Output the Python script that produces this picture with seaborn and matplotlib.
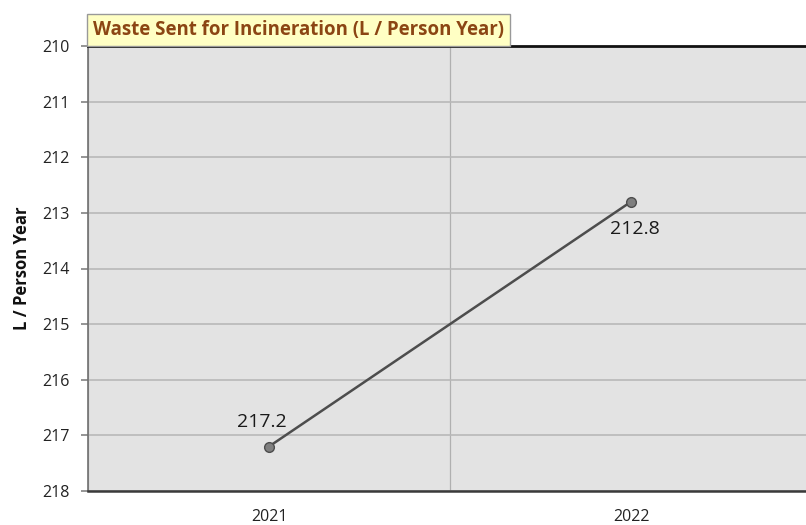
import matplotlib
matplotlib.use('Agg')
import matplotlib.pyplot as plt
import seaborn as sns
import pandas as pd
from matplotlib.ticker import MultipleLocator

# %% Data
years = ['2021', '2022']
values = [217.2, 212.8]
y_ticks = [210, 211, 212, 213, 214, 215, 216, 217, 218]
title = 'Waste Sent for Incineration (L / Person Year)'
ylabel = 'L / Person Year'

df = pd.DataFrame({'Year': years, 'Value': values})

# %% Plot
sns.set_theme(style='white')
plt.rcParams['font.family'] = ['Open Sans', 'DejaVu Sans']

fig = plt.figure(figsize=(8.06, 5.25), dpi=100)
# plot area runs a little past the right edge, like the source screenshot
ax = fig.add_axes([88 / 806, 1 - 491 / 525, 724 / 806, 445 / 525])
ax.set_facecolor('#E3E3E3')

sns.lineplot(data=df, x='Year', y='Value', ax=ax, color='#4D4D4D', linewidth=1.8,
             marker='o', markersize=7, markerfacecolor='#7F7F7F', markeredgecolor='#4D4D4D',
             markeredgewidth=1)

ax.set_xlim(-0.5, 1.5)
ax.set_ylim(max(y_ticks), min(y_ticks))
ax.set_yticks(y_ticks)
ax.set_yticklabels([str(t) for t in y_ticks], fontsize=11.5, color='#222222')
ax.set_xticks(range(len(years)))
ax.set_xticklabels(years, fontsize=11.5, color='#222222')
ax.xaxis.set_minor_locator(MultipleLocator(1, offset=0.5))

ax.tick_params(axis='x', which='major', length=0, pad=13)
ax.tick_params(axis='x', which='minor', length=5, color='#888888', direction='out')
ax.tick_params(axis='y', which='major', length=5, color='#888888', direction='out', left=True, pad=8)

ax.grid(axis='y', which='major', color='#B8B8B8', linewidth=1.2)
ax.grid(axis='x', which='minor', color='#B0B0B0', linewidth=0.9)
ax.set_axisbelow(True)

ax.set_xlabel('')
ax.set_ylabel(ylabel, fontsize=12, fontweight='bold', color='#111111', labelpad=8)

ax.spines['left'].set_color('#707070')
ax.spines['left'].set_linewidth(1.2)
ax.spines['bottom'].set_color('#3A3A3A')
ax.spines['bottom'].set_linewidth(1.8)
ax.spines['top'].set_color('#111111')
ax.spines['top'].set_linewidth(2)
ax.spines['right'].set_visible(False)

# data labels
offsets = [(-5, 11, 'bottom'), (3, -13, 'top')]
for i, v in enumerate(values):
    dx, dy, va = offsets[i]
    ax.annotate(f'{v:.1f}', (i, v), xytext=(dx, dy), textcoords='offset points',
                ha='center', va=va, fontsize=14, color='#1A1A1A')

# title box
fig.text(93 / 806, 1 - 30 / 525, title, fontsize=13.4, fontweight='bold', color='#8B4513',
         ha='left', va='center',
         bbox=dict(boxstyle='square,pad=0.3', facecolor='#FFFFC4', edgecolor='#999999', linewidth=1))

plt.savefig('out.png', dpi=100)
